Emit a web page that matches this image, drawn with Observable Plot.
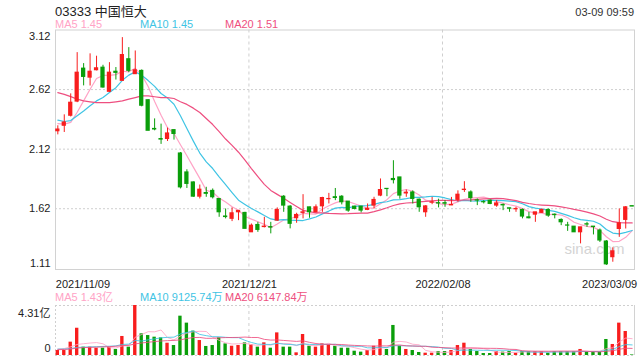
<!DOCTYPE html>
<html><head><meta charset="utf-8">
<script src="https://cdn.jsdelivr.net/npm/d3@7"></script>
<script src="https://cdn.jsdelivr.net/npm/@observablehq/plot@0.6"></script>
<style>
html,body{margin:0;padding:0;background:#fff;}
#wrap{position:relative;width:640px;height:360px;overflow:hidden;font-family:"Liberation Sans",Arial,"Noto Sans CJK SC",sans-serif;}
.abs{position:absolute;white-space:nowrap;}
#price{position:absolute;left:0;top:0;}
#vol{position:absolute;left:0;top:300px;}
</style></head><body>
<div id="wrap">
  <div id="price"></div>
  <div id="vol"></div>
  <div class="abs" style="left:55px;top:4px;font-size:13px;line-height:16px;color:#222">03333 中国恒大</div>
  <div class="abs" style="right:6px;top:5px;font-size:11px;line-height:14px;color:#333">03-09 09:59</div>
  <div id="leg1"></div>
  <div id="leg2"></div>
</div>
<script>
// ---- data ----
const open = [2.27,2.316,2.40,2.519,2.796,2.72,2.782,2.804,2.601,2.77,
  2.693,2.875,2.749,2.777,2.531,2.29,2.205,2.205,2.28,2.084,
  1.925,1.841,1.721,1.752,1.77,1.702,1.555,1.535,1.59,1.585,
  1.422,1.484,1.466,1.466,1.52,1.721,1.638,1.54,1.585,1.632,
  1.59,1.64,1.70,1.717,1.721,1.68,1.638,1.638,1.61,1.646,
  1.73,1.787,1.87,1.883,1.748,1.757,1.696,1.59,1.67,1.667,
  1.667,1.648,1.694,1.777,1.757,1.69,1.676,1.688,1.646,1.652,
  1.624,1.615,1.61,1.548,1.57,1.585,1.61,1.57,1.526,1.48,
  1.47,1.422,1.49,1.47,1.437,1.345,1.213,1.45,1.526,1.642];
const high = [2.316,2.408,2.584,2.93,2.838,2.92,2.90,2.824,2.846,2.805,
  3.056,2.972,2.944,2.785,2.534,2.374,2.33,2.297,2.28,2.092,
  1.947,1.845,1.819,1.80,1.786,1.705,1.618,1.627,1.604,1.59,
  1.492,1.506,1.548,1.506,1.627,1.73,1.646,1.582,1.738,1.632,
  1.652,1.716,1.749,1.79,1.73,1.68,1.64,1.638,1.66,1.716,
  1.87,1.787,2.023,1.883,1.777,1.77,1.702,1.646,1.715,1.70,
  1.688,1.715,1.77,1.847,1.77,1.702,1.688,1.694,1.688,1.66,
  1.624,1.632,1.618,1.59,1.59,1.618,1.618,1.576,1.535,1.506,
  1.47,1.464,1.506,1.47,1.45,1.353,1.292,1.618,1.638,1.642];
const low = [2.24,2.26,2.39,2.51,2.651,2.65,2.777,2.632,2.595,2.70,
  2.693,2.762,2.749,2.475,2.274,2.274,2.16,2.184,2.196,1.786,
  1.79,1.716,1.702,1.716,1.702,1.548,1.535,1.512,1.52,1.451,
  1.422,1.422,1.459,1.409,1.515,1.59,1.451,1.498,1.535,1.54,
  1.585,1.59,1.66,1.688,1.652,1.59,1.61,1.585,1.604,1.618,
  1.721,1.721,1.828,1.70,1.716,1.66,1.59,1.548,1.654,1.627,
  1.632,1.646,1.674,1.757,1.674,1.646,1.66,1.654,1.632,1.604,
  1.59,1.59,1.535,1.535,1.506,1.58,1.548,1.535,1.478,1.43,
  1.422,1.325,1.464,1.40,1.337,1.144,1.171,1.38,1.45,1.638];
const close = [2.285,2.344,2.51,2.762,2.726,2.77,2.799,2.637,2.762,2.76,
  2.91,2.777,2.782,2.484,2.274,2.285,2.20,2.252,2.247,1.799,
  1.828,1.721,1.78,1.745,1.716,1.59,1.55,1.582,1.602,1.451,
  1.478,1.442,1.47,1.462,1.61,1.646,1.493,1.568,1.59,1.59,
  1.632,1.71,1.702,1.71,1.674,1.604,1.618,1.604,1.62,1.694,
  1.777,1.785,1.86,1.73,1.755,1.702,1.632,1.64,1.674,1.664,
  1.662,1.652,1.738,1.78,1.71,1.688,1.674,1.66,1.665,1.648,
  1.62,1.618,1.554,1.54,1.59,1.61,1.562,1.566,1.506,1.478,
  1.422,1.464,1.487,1.466,1.353,1.153,1.263,1.498,1.632,1.638];
// volume in 亿
const vol = [0.43,0.43,1.15,2.35,0.72,0.72,0.63,0.63,0.72,0.52,
  1.64,0.72,4.31,1.87,1.72,1.58,1.52,1.06,0.86,3.39,
  2.79,2.10,1.29,0.78,0.86,1.52,1.0,0.80,0.86,1.09,
  0.92,0.72,1.09,0.63,1.95,0.72,0.72,0.23,1.81,0.80,
  0.72,1.0,0.92,0.80,0.63,0.63,0.37,0.29,0.43,0.80,
  1.38,0.52,2.59,0.80,0.52,0.43,0.26,0.2,0.2,0.34,
  0.34,0.43,0.86,1.06,0.52,0.34,0.17,0.17,0.34,0.29,
  0.34,0.2,0.34,0.34,0.34,0.34,0.2,0.34,0.34,0.34,
  0.34,0.52,0.34,0.34,0.34,1.38,0.95,2.79,2.07,0.05];
// MA values at the start of the window (earlier data not shown)
const ma5Lead = [2.335,2.33,2.345,2.43];
const ma10Lead = [2.364,2.352,2.36,2.40,2.44,2.484,2.525,2.553,2.595];
const ma20Lead = [2.595,2.58,2.561,2.54,2.525,2.517,2.51,2.51,2.51,2.517,2.525,2.54,2.553,2.567,2.567,2.56,2.553,2.553,2.545];
const vma5Lead = [0.55,0.6,0.75,0.95];
const vma10Lead = [0.55,0.56,0.6,0.7,0.72,0.74,0.76,0.78,0.8];
const vma20Lead = [0.5,0.52,0.56,0.64,0.68,0.70,0.72,0.74,0.76,0.8,0.85,0.88,1.0,1.08,1.14,1.2,1.25,1.28,1.3];

const tickIdx = [0, 30, 60, 89];
const tickLabels = ["2021/11/09","2021/12/21","2022/02/08","2023/03/09"];
const priceTicks = [3.12, 2.62, 2.12, 1.62, 1.11];
const volTicks = [4.31, 0];
const volTickLabels = ["4.31亿", "0"];
const maNames = ["MA5","MA10","MA20"];
const maColors = ["#ffa3c6","#3fc4e4","#ee4f80"];
const priceMaText = ["1.45","1.45","1.51"];
const volMaText = ["1.43亿","9125.74万","6147.84万"];

// ---- derived ----
function movingAvg(values, k, lead) {
  return values.map((v, i) => i >= k - 1 ? d3.mean(values.slice(i - k + 1, i + 1)) : lead[i]);
}
const N = close.length;
const ma = [movingAvg(close,5,ma5Lead), movingAvg(close,10,ma10Lead), movingAvg(close,20,ma20Lead)];
const vma = [movingAvg(vol,5,vma5Lead), movingAvg(vol,10,vma10Lead), movingAvg(vol,20,vma20Lead)];
const candles = d3.range(N).map(i => ({i, open: open[i], high: high[i], low: low[i], close: close[i], vol: vol[i], up: close[i] >= open[i]}));
const RED = "#f81d1d", GREEN = "#0a9e0a";
const col = d => d.up ? RED : GREEN;
const xDom = [-0.36, N - 1 + 0.36];
const gridIdx = tickIdx.slice(1, tickIdx.length - 1);
const fontFam = '"Liberation Sans", Arial, "Noto Sans CJK SC", sans-serif';
const GRID = "#cfcfcf";

const pricePlot = Plot.plot({
  width: 640, height: 295,
  marginLeft: 55, marginRight: 6, marginTop: 29.5, marginBottom: 26,
  x: {domain: xDom, axis: null},
  y: {domain: [priceTicks[priceTicks.length - 1], priceTicks[0]], axis: null},
  color: {type: "identity"},
  style: {fontFamily: fontFam, fontSize: "11px", background: "transparent", overflow: "visible"},
  marks: [
    Plot.ruleY(priceTicks.slice(1, -1), {stroke: GRID, strokeDasharray: "2,2"}),
    Plot.ruleX(gridIdx, {dx: -2.5, stroke: GRID, strokeDasharray: "3,3"}),
    Plot.frame({stroke: "#d2d2d2"}),
    Plot.text(["sina.com"], {frameAnchor: "bottom-right", dx: -10, dy: -20, lineAnchor: "middle", textAnchor: "end", fill: "#d4d4d4", fontSize: 15}),
    ...ma.map((m, k) => Plot.line(candles, {x: "i", y: d => m[d.i], stroke: maColors[k], strokeWidth: 1.2})),
    Plot.ruleX(candles, {x: "i", y1: "low", y2: "high", stroke: col, strokeWidth: 1}),
    Plot.rect(candles, {x1: d => d.i - 0.33, x2: d => d.i + 0.33, y1: "open", y2: "close", fill: col, insetTop: -0.5, insetBottom: -0.5}),
    Plot.text(priceTicks.slice(1, -1), {y: d => d, frameAnchor: "left", dx: -5, textAnchor: "end", fill: "#222"}),
    Plot.text(priceTicks.slice(0, 1), {y: d => d, frameAnchor: "left", dx: -5, dy: 6, textAnchor: "end", fill: "#222"}),
    Plot.text(priceTicks.slice(-1), {y: d => d, frameAnchor: "left", dx: -5, dy: -6, textAnchor: "end", fill: "#222"}),
    Plot.text(tickIdx.slice(0, 1), {x: d => d, text: (d, j) => tickLabels[0], frameAnchor: "bottom", lineAnchor: "middle", dy: 15, dx: -2, textAnchor: "start", fill: "#222"}),
    Plot.text(gridIdx, {x: d => d, text: d => tickLabels[tickIdx.indexOf(d)], frameAnchor: "bottom", lineAnchor: "middle", dy: 15, dx: -2, textAnchor: "middle", fill: "#222"}),
    Plot.text(tickIdx.slice(-1), {x: d => d, text: d => tickLabels[tickLabels.length - 1], frameAnchor: "bottom", lineAnchor: "middle", dy: 15, dx: 5, textAnchor: "end", fill: "#222"})
  ]
});
document.getElementById("price").appendChild(pricePlot);

const volPlot = Plot.plot({
  width: 640, height: 60,
  marginLeft: 55, marginRight: 6, marginTop: 5, marginBottom: 5,
  x: {domain: xDom, axis: null},
  y: {domain: [volTicks[1], volTicks[0]], axis: null},
  color: {type: "identity"},
  style: {fontFamily: fontFam, fontSize: "11px", background: "transparent", overflow: "visible"},
  marks: [
    Plot.ruleY(volTicks, {stroke: GRID, strokeDasharray: "2,2"}),
    Plot.ruleX(gridIdx, {dx: -2.5, stroke: GRID, strokeDasharray: "3,3"}),
    Plot.ruleX([xDom[0]], {stroke: GRID, strokeDasharray: "2,2"}),
    Plot.ruleX([xDom[1]], {stroke: "#d2d2d2"}),
    Plot.rect(candles, {x1: d => d.i - 0.26, x2: d => d.i + 0.26, y1: 0, y2: "vol", fill: col}),
    ...vma.map((m, k) => Plot.line(candles, {x: "i", y: d => m[d.i], stroke: maColors[k], strokeWidth: 1, strokeOpacity: 0.85})),
    Plot.text(volTicks.slice(0, 1), {y: d => d, text: d => volTickLabels[0], frameAnchor: "left", dx: -5, dy: 8, textAnchor: "end", fill: "#222"}),
    Plot.text(volTicks.slice(1), {y: d => d, text: d => volTickLabels[1], frameAnchor: "left", dx: -5, dy: -7, textAnchor: "end", fill: "#222"})
  ]
});
document.getElementById("vol").appendChild(volPlot);

// legends
const legX = [55, 140, 225];
function legend(id, top, values) {
  const el = document.getElementById(id);
  maNames.forEach((n, k) => {
    const d = document.createElement("div");
    d.className = "abs";
    d.style.cssText = `left:${legX[k]}px;top:${top}px;font-size:11px;line-height:13px;color:${maColors[k]}`;
    d.textContent = n + " " + values[k];
    el.appendChild(d);
  });
}
legend("leg1", 18, priceMaText);
legend("leg2", 291, volMaText);
</script>
</body></html>
